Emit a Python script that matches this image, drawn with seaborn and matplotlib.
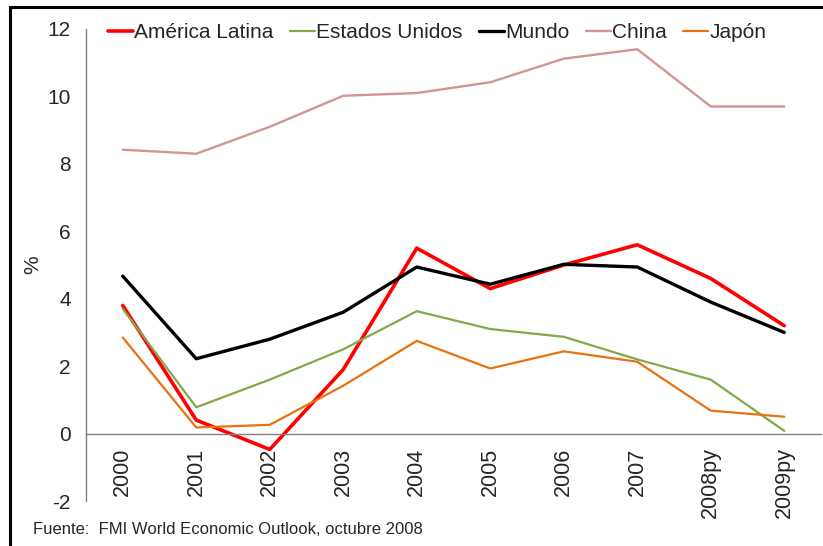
import matplotlib
matplotlib.use("Agg")
import matplotlib.pyplot as plt
from matplotlib.patches import Rectangle
from matplotlib.ticker import FixedLocator
import pandas as pd
import seaborn as sns

years = ["2000", "2001", "2002", "2003", "2004", "2005", "2006", "2007", "2008py", "2009py"]
america_latina = [3.8, 0.4, -0.47, 1.9, 5.5, 4.3, 5.0, 5.6, 4.6, 3.2]
estados_unidos = [3.7, 0.78, 1.6, 2.5, 3.63, 3.1, 2.87, 2.2, 1.6, 0.08]
mundo = [4.67, 2.22, 2.8, 3.6, 4.94, 4.43, 5.02, 4.94, 3.9, 3.0]
china = [8.42, 8.3, 9.1, 10.02, 10.1, 10.42, 11.12, 11.4, 9.7, 9.7]
japon = [2.85, 0.18, 0.26, 1.42, 2.75, 1.93, 2.44, 2.13, 0.68, 0.5]

series = {
    "América Latina": america_latina,
    "Estados Unidos": estados_unidos,
    "Mundo": mundo,
    "China": china,
    "Japón": japon,
}
colors = {
    "América Latina": "#FF0000",
    "Estados Unidos": "#83A74A",
    "Mundo": "#000000",
    "China": "#D29494",
    "Japón": "#E8720F",
}
widths = {
    "América Latina": 2.6,
    "Estados Unidos": 1.6,
    "Mundo": 2.4,
    "China": 1.7,
    "Japón": 1.6,
}

sns.set_style("white")
plt.rcParams["font.family"] = ["Liberation Sans", "DejaVu Sans"]
plt.rcParams["axes.unicode_minus"] = False

rows = []
for name, vals in series.items():
    for yr, v in zip(years, vals):
        rows.append({"year": yr, "value": v, "serie": name})
df = pd.DataFrame(rows)

fig = plt.figure(figsize=(8.23, 5.46), dpi=100)
ax = fig.add_axes([0.1045, 0.0824, 0.8931, 0.8645])

for name in series:
    sub = df[df["serie"] == name]
    sns.lineplot(data=sub, x="year", y="value", color=colors[name],
                 linewidth=widths[name], sort=False, label=name, ax=ax)

ax.set_xlim(-0.5, len(years) - 0.5)
ax.set_ylim(-2, 12)
ax.set_yticks(range(-2, 13, 2))
ax.set_xticks(range(len(years)))
ax.set_xticklabels(years)
ax.xaxis.set_minor_locator(FixedLocator([i - 0.5 for i in range(len(years) + 1)]))

for s in ["top", "right"]:
    ax.spines[s].set_visible(False)
ax.spines["bottom"].set_position(("data", 0))
for s in ["bottom", "left"]:
    ax.spines[s].set_color("#808080")
    ax.spines[s].set_linewidth(1.0)

ax.tick_params(axis="x", which="major", length=0, pad=10, labelsize=15.5, labelrotation=90)
ax.tick_params(axis="x", which="minor", length=6, color="#808080", width=1.0, direction="out")
ax.tick_params(axis="y", length=5, color="#808080", width=1.0, direction="out", labelsize=15, pad=6)
for lab in ax.get_xticklabels():
    lab.set_rotation(90)
    lab.set_va("top")
    lab.set_ha("center")
ax.set_xlabel(None)
ax.set_ylabel("%", fontsize=15, labelpad=4)

leg = ax.legend(loc="center left", bbox_to_anchor=(0.131, 0.94), bbox_transform=fig.transFigure,
                ncol=5, frameon=False, fontsize=15, handlelength=1.2, handletextpad=0.05,
                columnspacing=0.8, borderaxespad=0, borderpad=0)

fig.text(0.04, 0.031, "Fuente:  FMI World Economic Outlook, octubre 2008",
         fontsize=12, family=["Liberation Sans Narrow", "Liberation Sans", "DejaVu Sans"],
         ha="left", va="center")

fig.patches.append(Rectangle((0.0125, -0.05), 1.1, 1.037, transform=fig.transFigure,
                             fill=False, edgecolor="black", linewidth=2.2, clip_on=False))

fig.savefig("out.png", dpi=100)
